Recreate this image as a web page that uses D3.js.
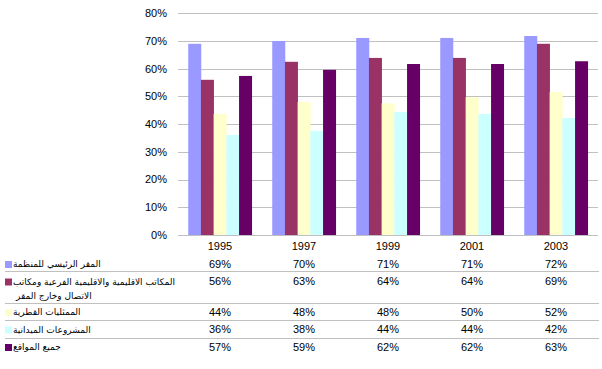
<!DOCTYPE html>
<html><head><meta charset="utf-8">
<script src="https://cdn.jsdelivr.net/npm/d3@7"></script>
<style>
html,body{margin:0;padding:0;background:#fff;}
svg{display:block;font-family:"Liberation Sans",Arial,"DejaVu Sans",sans-serif;}
</style></head><body>
<svg id="c" width="602" height="369"></svg>
<script>
const categories = ["1995","1997","1999","2001","2003"];
const seriesNames = [
  ["المقر الرئيسي للمنظمة"],
  ["المكاتب الاقليمية والاقليمية الفرعية ومكاتب","الاتصال  وخارج المقر"],
  ["الممثليات القطرية"],
  ["المشروعات الميدانية"],
  ["جميع المواقع"]
];
const colors = ["#9999FF","#993366","#FFFFCC","#CCFFFF","#660066"];
const hq      = [0.69, 0.70, 0.711, 0.711, 0.718];
const regional= [0.56, 0.625, 0.639, 0.639, 0.69];
const country = [0.437, 0.48, 0.475, 0.497, 0.516];
const field   = [0.361, 0.375, 0.444, 0.437, 0.422];
const allSites= [0.574, 0.596, 0.617, 0.617, 0.627];
const seriesValues = [hq, regional, country, field, allSites];
const tableLabels = [
  ["69%","70%","71%","71%","72%"],
  ["56%","63%","64%","64%","69%"],
  ["44%","48%","48%","50%","52%"],
  ["36%","38%","44%","44%","42%"],
  ["57%","59%","62%","62%","63%"]
];
const yTicks = [0,0.1,0.2,0.3,0.4,0.5,0.6,0.7,0.8];

const svg = d3.select("#c");
const x0 = d3.scaleBand().domain(categories).range([178,598]).paddingInner(0.244).paddingOuter(0.122);
const x1 = d3.scaleBand().domain(d3.range(5)).range([0,x0.bandwidth()]);
const y = d3.scaleLinear().domain([0,0.8]).range([235,13.3]);

// gridlines
svg.append("g").selectAll("line").data(yTicks).join("line")
  .attr("x1",178).attr("x2",598)
  .attr("y1",d=>Math.round(y(d))+0.5).attr("y2",d=>Math.round(y(d))+0.5)
  .attr("stroke","#C0C0C0").attr("stroke-width",1);

// y labels
svg.append("g").selectAll("text").data(yTicks).join("text")
  .attr("x",167).attr("y",d=>y(d)).attr("dy","0.35em")
  .attr("text-anchor","end").attr("font-size",11).attr("fill","#000")
  .text(d=>d3.format(".0%")(d));

// bars
const g = svg.append("g");
seriesValues.forEach((vals,si)=>{
  g.append("g").selectAll("rect").data(vals).join("rect")
    .attr("x",(d,i)=>x0(categories[i])+x1(si))
    .attr("width",x1.bandwidth()+0.3)
    .attr("y",d=>y(d)).attr("height",d=>y(0)-y(d))
    .attr("fill",colors[si]);
});

// category labels
svg.append("g").selectAll("text").data(categories).join("text")
  .attr("x",d=>x0(d)+x0.bandwidth()/2).attr("y",246).attr("dy","0.35em")
  .attr("text-anchor","middle").attr("font-size",11).text(d=>d);

// table
const rowCenters = [264, 281.5, 312, 329.5, 347];
const rowLines = [271.5, 303.5, 320.5, 338.5];
svg.append("g").selectAll("line").data(rowLines).join("line")
  .attr("x1",5).attr("x2",599).attr("y1",d=>d).attr("y2",d=>d)
  .attr("stroke","#C0C0C0").attr("stroke-width",1);

const rows = svg.append("g");
seriesNames.forEach((lines,si)=>{
  const cy = rowCenters[si];
  rows.append("rect").attr("x",5).attr("y",cy-3).attr("width",7).attr("height",7).attr("fill",colors[si]);
  lines.forEach((t,li)=>{
    rows.append("text").attr("x",li===0?13:16).attr("y",cy+li*14).attr("dy","0.35em")
      .attr("font-size",9).attr("font-family","DejaVu Sans").attr("direction","rtl").attr("text-anchor","end")
      .text(t);
  });
  rows.append("g").selectAll("text").data(tableLabels[si]).join("text")
    .attr("x",(d,i)=>x0(categories[i])+x0.bandwidth()/2).attr("y",cy).attr("dy","0.35em")
    .attr("text-anchor","middle").attr("font-size",11).text(d=>d);
});
</script></body></html>
